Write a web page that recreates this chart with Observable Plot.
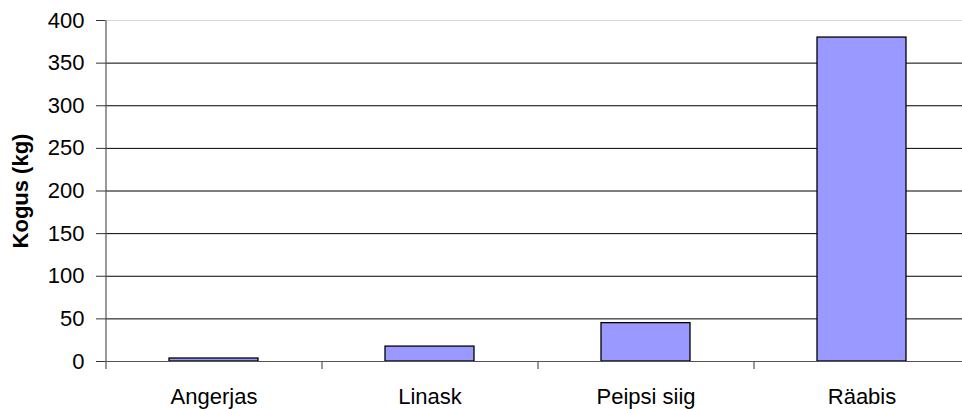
<!DOCTYPE html>
<html>
<head>
<meta charset="utf-8">
<script src="https://cdn.jsdelivr.net/npm/d3@7"></script>
<script src="https://cdn.jsdelivr.net/npm/@observablehq/plot@0.6"></script>
<style>
  html, body { margin: 0; padding: 0; background: #fff; overflow: hidden; }
  #chart svg { display: block; }
</style>
</head>
<body>
<div id="chart"></div>
<script>
// ---- data ----
const categories = ["Angerjas", "Linask", "Peipsi siig", "Räabis"];
const values = [3.5, 17.5, 45, 380];
const yTicks = [0, 50, 100, 150, 200, 250, 300, 350, 400];
const yLabel = "Kogus (kg)";

const data = categories.map((c, i) => ({cat: c, value: values[i]}));

const W = 962, H = 409;
const xRange = [105, 969];
const halfStep = (xRange[1] - xRange[0]) / categories.length / 2;
const font = "'Liberation Sans', Arial, Helvetica, sans-serif";

const chart = Plot.plot({
  width: W,
  height: H,
  marginLeft: 105,
  marginRight: 0,
  marginTop: 20,
  marginBottom: 48,
  style: {fontFamily: font, fontSize: "22px", color: "#000", background: "#fff", overflow: "visible"},
  x: {domain: categories, range: xRange, paddingInner: 0.59, paddingOuter: 0.295, label: null},
  y: {domain: [0, 400], label: null},
  marks: [
    Plot.ruleY(yTicks, {stroke: d => d === yTicks[yTicks.length - 1] ? "#d9d9d9" : "#000", strokeWidth: 1}),
    Plot.barY(data, {x: "cat", y: "value", fill: "#9999ff", stroke: "#000", strokeWidth: 1.3}),
    // y axis line (extends slightly below zero)
    Plot.ruleX([categories[0]], {x: d => d, dx: -halfStep, y1: yTicks[yTicks.length - 1], y2: 0, insetBottom: -8, stroke: "#555", strokeWidth: 1.2}),
    // category separator ticks
    Plot.ruleX(categories, {x: d => d, dx: halfStep, y1: 0, y2: 0, insetBottom: -8, stroke: "#555", strokeWidth: 1.2}),
    Plot.ruleY([0], {stroke: "#555", strokeWidth: 1.2}),
    Plot.axisY({ticks: yTicks, tickSize: 9, tickPadding: 12, fontSize: 22, label: null, stroke: "#333"}),
    Plot.axisX({tickSize: 0, tickPadding: 27, fontSize: 22, label: null}),
    Plot.text([yLabel], {
      frameAnchor: "left", dx: -78, rotate: -90, text: d => d,
      fontSize: 22, fontWeight: "bold", textAnchor: "middle", lineAnchor: "bottom"
    })
  ]
});
document.getElementById("chart").appendChild(chart);
</script>
</body>
</html>
